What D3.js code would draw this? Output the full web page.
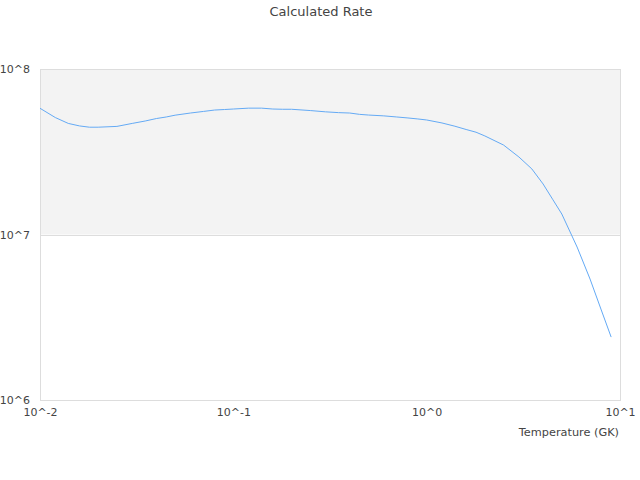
<!DOCTYPE html>
<html lang="en">
<head>
    <meta charset="UTF-8">
    <title>Calculated Rate</title>
    <script src="https://cdn.jsdelivr.net/npm/d3@7/dist/d3.min.js"></script>
    <style>
        body { margin: 0; background: #fff; }
        text { font-family: "DejaVu Sans", sans-serif; fill: #444; }
    </style>
</head>
<body>
    <script>
        // temperatures (GK) and rate values
        var temps = [0.01, 0.012, 0.014, 0.016, 0.018, 0.02, 0.025, 0.03, 0.035, 0.04, 0.045, 0.05,
                     0.06, 0.07, 0.08, 0.09, 0.1, 0.12, 0.14, 0.16, 0.18, 0.2, 0.25, 0.3, 0.35, 0.4,
                     0.45, 0.5, 0.6, 0.7, 0.8, 0.9, 1.0, 1.2, 1.4, 1.6, 1.8, 2.0, 2.5, 3.0, 3.5, 4.0,
                     4.5, 5.0, 6.0, 7.0, 8.0, 9.0];
        var rates = [5.79e7, 5.09e7, 4.69e7, 4.53e7, 4.45e7, 4.45e7, 4.50e7, 4.69e7, 4.85e7, 5.02e7, 5.13e7, 5.26e7,
                     5.42e7, 5.54e7, 5.65e7, 5.69e7, 5.73e7, 5.80e7, 5.80e7, 5.73e7, 5.71e7, 5.71e7, 5.61e7, 5.51e7, 5.45e7, 5.42e7,
                     5.32e7, 5.27e7, 5.21e7, 5.13e7, 5.06e7, 4.99e7, 4.92e7, 4.72e7, 4.51e7, 4.31e7, 4.15e7, 3.94e7, 3.47e7, 2.94e7, 2.49e7, 2.02e7,
                     1.62e7, 1.33e7, 8.40e6, 5.38e6, 3.50e6, 2.40e6];
        var xTicks = [1e-2, 1e-1, 1e0, 1e1];
        var xTickLabels = ["10^-2", "10^-1", "10^0", "10^1"];
        var yTicks = [1e6, 1e7, 1e8];
        var yTickLabels = ["10^6", "10^7", "10^8"];

        var width = 640, height = 480;
        var plotLeft = 40, plotRight = 620, plotTop = 69, plotBottom = 400;

        var svg = d3.select("body").append("svg").attr("width", width).attr("height", height);

        var x = d3.scaleLog().domain([1e-2, 1e1]).range([plotLeft, plotRight]);
        var y = d3.scaleLog().domain([1e6, 1e8]).range([plotBottom, plotTop]);

        // shaded band between 10^7 and 10^8
        svg.append("rect")
            .attr("x", plotLeft).attr("y", y(1e8))
            .attr("width", plotRight - plotLeft).attr("height", y(1e7) - y(1e8))
            .attr("fill", "#f3f3f3");

        // horizontal grid lines
        svg.selectAll(".grid")
            .data(yTicks)
            .enter().append("line")
            .attr("x1", plotLeft).attr("x2", plotRight)
            .attr("y1", function(d){ return Math.round(y(d)) + 0.5; })
            .attr("y2", function(d){ return Math.round(y(d)) + 0.5; })
            .attr("stroke", "#ddd");

        // plot border
        svg.append("rect")
            .attr("x", plotLeft + 0.5).attr("y", plotTop + 0.5)
            .attr("width", plotRight - plotLeft).attr("height", plotBottom - plotTop)
            .attr("fill", "none").attr("stroke", "#ddd");

        // rate line
        var line = d3.line()
            .x(function(d, i){ return x(temps[i]); })
            .y(function(d){ return y(d); });
        svg.append("path")
            .datum(rates)
            .attr("d", line)
            .attr("fill", "none")
            .attr("stroke", "#64aaf5")
            .attr("stroke-width", 1);

        // x axis labels
        var xAxis = d3.axisBottom(x).tickValues(xTicks)
            .tickFormat(function(d, i){ return xTickLabels[i]; })
            .tickSize(0).tickPadding(8);
        var gx = svg.append("g").attr("transform", "translate(0," + plotBottom + ")").call(xAxis);
        gx.select(".domain").remove();
        gx.selectAll("text").style("font-size", "11px").attr("fill", "#444");

        // y axis labels
        var yAxis = d3.axisLeft(y).tickValues(yTicks)
            .tickFormat(function(d, i){ return yTickLabels[i]; })
            .tickSize(0).tickPadding(8);
        var gy = svg.append("g").attr("transform", "translate(" + (plotLeft - 2) + ",0)").call(yAxis);
        gy.select(".domain").remove();
        gy.selectAll("text").style("font-size", "11px").attr("fill", "#444");

        // title and axis name
        svg.append("text")
            .attr("x", width / 2 + 1).attr("y", 16)
            .attr("text-anchor", "middle")
            .style("font-size", "13px")
            .text("Calculated Rate");

        svg.append("text")
            .attr("x", plotRight - 1).attr("y", 436)
            .attr("text-anchor", "end")
            .style("font-size", "11.3px")
            .text("Temperature (GK)");
    </script>
</body>
</html>
